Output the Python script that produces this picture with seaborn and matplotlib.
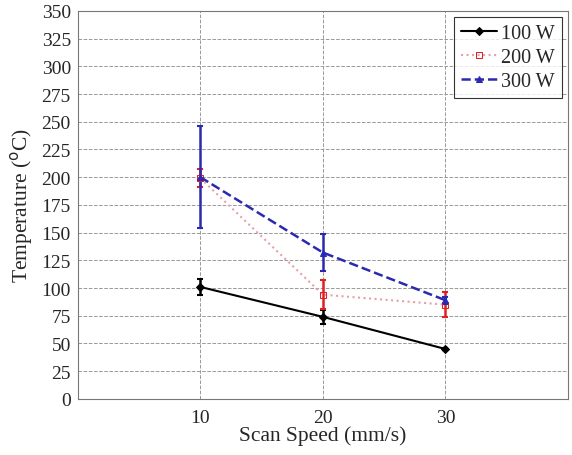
import pandas as pd
import matplotlib
matplotlib.use("Agg")
import matplotlib.pyplot as plt
import seaborn as sns

speed = [10, 20, 30]
temp_100 = [101, 74, 45]
err_100 = [7, 6, 1]
temp_200 = [199, 94, 85]
err_200 = [8, 13, 11]
temp_300 = [200, 132, 89]
err_300 = [46, 17, 3]
labels = ["100 W", "200 W", "300 W"]

df = pd.DataFrame({
    "speed": speed * 3,
    "temp": temp_100 + temp_200 + temp_300,
    "err": err_100 + err_200 + err_300,
    "power": [l for l in labels for _ in speed],
})

sns.set_style("white")
plt.rcParams["font.family"] = ["Liberation Serif", "DejaVu Serif"]

fig = plt.figure(figsize=(5.72, 4.56), dpi=100)
ax = fig.add_axes([0.136, 0.123, 0.857, 0.851])

styles = {
    "100 W": dict(color="black", ls="-", lw=1.5, marker="D", ms=4, mfc="black", ecol="black"),
    "200 W": dict(color="#e8a0a8", ls=":", lw=1.5, marker="s", ms=5, mfc="none", ecol="#e02020"),
    "300 W": dict(color="#2a2ab0", ls="--", lw=1.8, marker="^", ms=4, mfc="#2a2ab0", ecol="#2a2ab0"),
}

for name in labels:
    d = df[df["power"] == name]
    st = styles[name]
    ax.errorbar(d["speed"], d["temp"], yerr=d["err"], fmt="none",
                ecolor=st["ecol"], elinewidth=1.8, capsize=2.5, capthick=1.5, zorder=3)
    sns.lineplot(data=d, x="speed", y="temp", ax=ax, color=st["color"],
                 linestyle=st["ls"], linewidth=st["lw"], marker=st["marker"],
                 markersize=st["ms"], markerfacecolor=st["mfc"],
                 markeredgecolor=st["ecol"], label=name, zorder=4)

ax.set_xlim(0, 40)
ax.set_ylim(0, 350)
ax.set_xticks(speed)
ax.set_yticks(range(0, 351, 25))
ax.grid(True, color="#999999", ls="--", lw=0.7)
ax.tick_params(labelsize=14, length=0)
ax.tick_params(axis="x", pad=7)
ax.tick_params(axis="y", pad=5)
for s in ax.spines.values():
    s.set_color("#777777")
    s.set_linewidth(0.8)
ax.set_xlabel("Scan Speed (mm/s)", fontsize=15.5, labelpad=0)
ax.set_ylabel("Temperature ($^{\\mathrm{o}}$C)", fontsize=15.5, labelpad=5)

leg = ax.legend(loc="upper right", fontsize=14.5, frameon=True, fancybox=False,
                edgecolor="black", handlelength=1.8, borderpad=0.35,
                labelspacing=0.25, handletextpad=0.2, borderaxespad=0.3)
leg.get_frame().set_linewidth(0.8)

fig.savefig("out.png", dpi=100)
